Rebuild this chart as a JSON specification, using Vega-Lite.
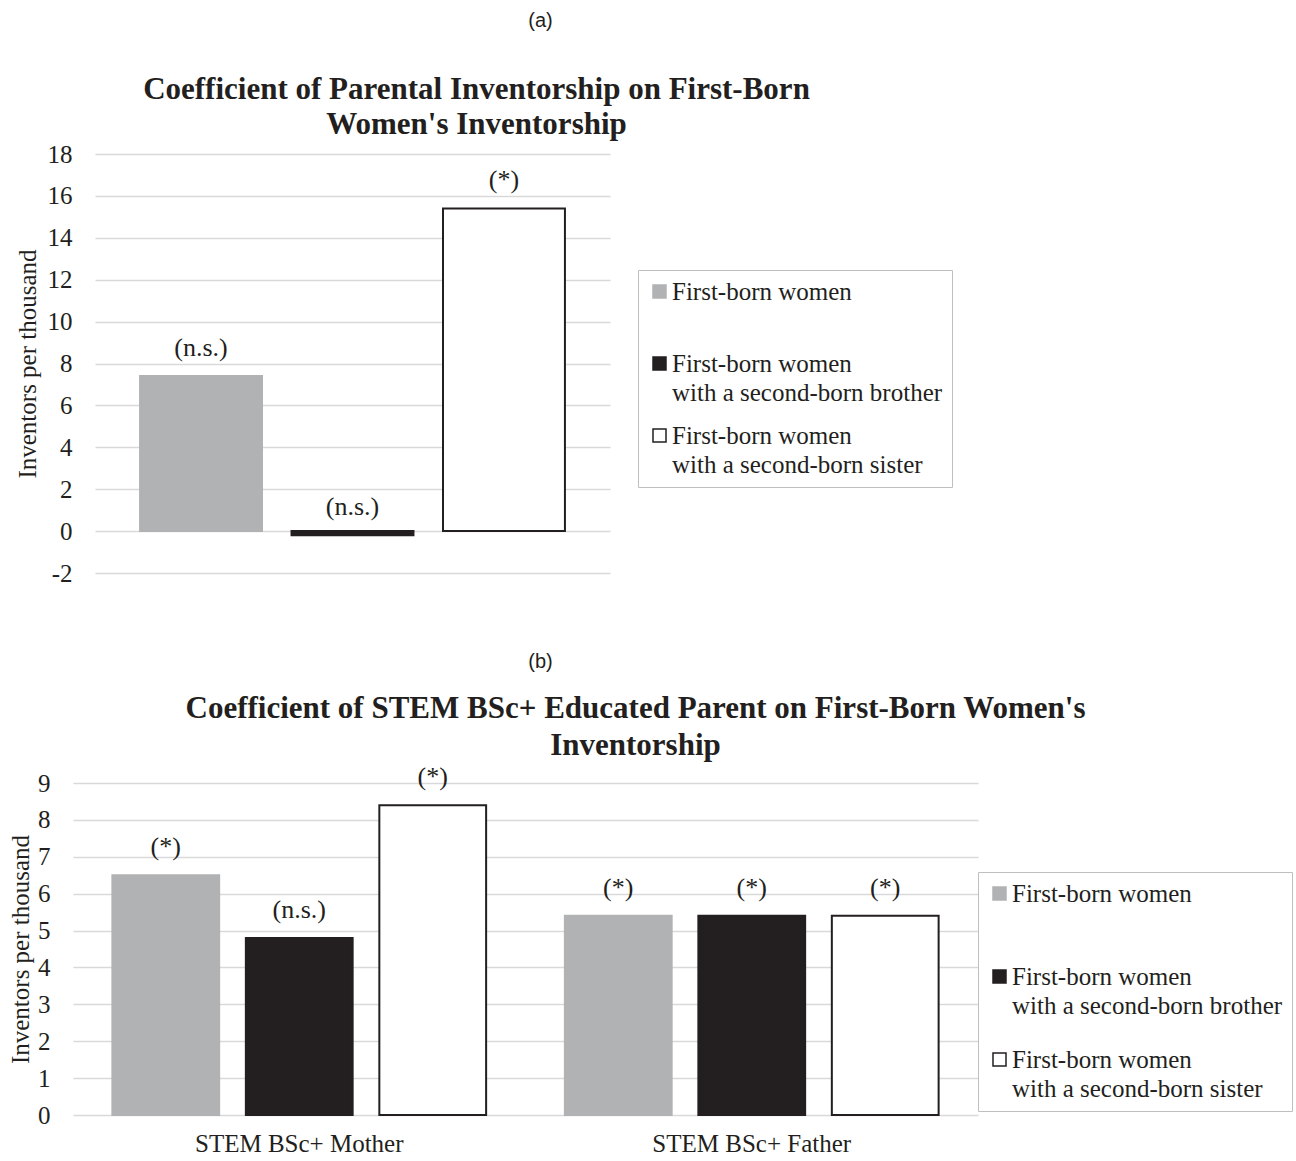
{
  "$schema": "https://vega.github.io/schema/vega-lite/v6.json",
  "background": "white",
  "padding": {"left": 8, "top": 11, "right": 0, "bottom": 0},
  "datasets": {
    "panelA": [
      {"series": "First-born women", "value": 7.4, "sig": "(n.s.)"},
      {"series": "First-born women with a second-born brother", "value": -0.2, "sig": "(n.s.)"},
      {"series": "First-born women with a second-born sister", "value": 15.4, "sig": "(*)"}
    ],
    "panelB": [
      {"parent": "STEM BSc+ Mother", "series": "First-born women", "value": 6.5, "sig": "(*)"},
      {"parent": "STEM BSc+ Mother", "series": "First-born women with a second-born brother", "value": 4.8, "sig": "(n.s.)"},
      {"parent": "STEM BSc+ Mother", "series": "First-born women with a second-born sister", "value": 8.4, "sig": "(*)"},
      {"parent": "STEM BSc+ Father", "series": "First-born women", "value": 5.4, "sig": "(*)"},
      {"parent": "STEM BSc+ Father", "series": "First-born women with a second-born brother", "value": 5.4, "sig": "(*)"},
      {"parent": "STEM BSc+ Father", "series": "First-born women with a second-born sister", "value": 5.4, "sig": "(*)"}
    ]
  },
  "columns": 1,
  "align": "none",
  "spacing": 66,
  "resolve": {"scale": {"color": "independent", "stroke": "independent"}, "legend": {"color": "independent", "stroke": "independent"}},
  "concat": [
    {
      "width": 537,
      "height": 419,
      "title": {"text": "(a)", "font": "Liberation Sans", "fontSize": 20, "fontWeight": "normal", "color": "#231f20", "anchor": "middle", "frame": "group", "dx": 199, "offset": 42},
      "data": {"name": "panelA"},
      "encoding": {
        "x": {"field": "series", "type": "nominal", "sort": ["First-born women", "First-born women with a second-born brother", "First-born women with a second-born sister"], "scale": {"range": [22, 537], "paddingInner": 0.195, "paddingOuter": 0.2975},
          "axis": {"orient": "top", "labels": false, "grid": false, "title": ["Coefficient of Parental Inventorship on First-Born", "Women's Inventorship"], "titleFont": "Liberation Serif", "titleFontSize": 31, "titleFontWeight": "bold", "titleLineHeight": 35, "titleColor": "#231f20", "titleX": 403, "titleY": -65, "titleAlign": "center", "titleBaseline": "middle", "titleAngle": 0}},
        "y": {"field": "value", "type": "quantitative", "scale": {"domain": [-2, 18], "nice": false}, "axis": {"values": [-2, 0, 2, 4, 6, 8, 10, 12, 14, 16, 18], "labelExpr": "replace(datum.label, '\u2212', '-')", "title": "Inventors per thousand", "labelPadding": 1, "titlePadding": 7}}
      },
      "layer": [
        {
          "mark": {"type": "bar", "strokeWidth": 2},
          "encoding": {
            "color": {"field": "series", "type": "nominal", "scale": {"domain": ["First-born women", "First-born women with a second-born brother", "First-born women with a second-born sister"], "range": ["#b1b2b4", "#231f20", "#ffffff"]},
              "legend": {"title": null, "orient": "none", "legendX": 565, "legendY": 116, "symbolType": "square", "symbolSize": 169, "symbolStrokeWidth": 1.5, "labelFont": "Liberation Serif", "labelFontSize": 25, "labelColor": "#231f20", "labelLimit": 600, "labelBaseline": "alphabetic", "labelExpr": "indexof(datum.label, ' with') > 0 ? [slice(datum.label, 0, indexof(datum.label, ' with')), slice(datum.label, indexof(datum.label, ' with') + 1)] : datum.label", "strokeColor": "#bfbfbf", "fillColor": "white", "padding": 9, "rowPadding": 17, "gridAlign": "all", "labelOffset": 0, "encode": {"labels": {"update": {"lineHeight": {"value": 29}, "dy": {"value": 8}}}}}},
            "stroke": {"field": "series", "type": "nominal", "scale": {"domain": ["First-born women", "First-born women with a second-born brother", "First-born women with a second-born sister"], "range": ["#b1b2b4", "#231f20", "#231f20"]},
              "legend": {"title": null, "orient": "none", "legendX": 565, "legendY": 116, "symbolType": "square", "symbolSize": 169, "symbolStrokeWidth": 1.5, "labelFont": "Liberation Serif", "labelFontSize": 25, "labelColor": "#231f20", "labelLimit": 600, "labelBaseline": "alphabetic", "labelExpr": "indexof(datum.label, ' with') > 0 ? [slice(datum.label, 0, indexof(datum.label, ' with')), slice(datum.label, indexof(datum.label, ' with') + 1)] : datum.label", "strokeColor": "#bfbfbf", "fillColor": "white", "padding": 9, "rowPadding": 17, "gridAlign": "all", "labelOffset": 0, "encode": {"labels": {"update": {"lineHeight": {"value": 29}, "dy": {"value": 8}}}}}}
          }
        },
        {
          "mark": {"type": "text", "baseline": "middle", "dy": -28, "font": "Liberation Serif", "fontSize": 26, "color": "#231f20"},
          "encoding": {"text": {"field": "sig"}}
        }
      ]
    },
    {
      "width": 905,
      "height": 332,
      "title": {"text": "(b)", "font": "Liberation Sans", "fontSize": 20, "fontWeight": "normal", "color": "#231f20", "anchor": "middle", "frame": "group", "dx": 15, "offset": 20},
      "data": {"name": "panelB"},
      "encoding": {
        "xOffset": {"field": "series", "type": "nominal", "sort": ["First-born women", "First-born women with a second-born brother", "First-born women with a second-born sister"], "scale": {"paddingInner": 0.2, "paddingOuter": 0.295}},
        "y": {"field": "value", "type": "quantitative", "scale": {"domain": [0, 9], "nice": false}, "axis": {"values": [0, 1, 2, 3, 4, 5, 6, 7, 8, 9], "title": "Inventors per thousand", "labelPadding": 23, "titlePadding": 4}}
      },
      "resolve": {"axis": {"x": "independent"}},
      "layer": [
        {
          "mark": {"type": "bar", "strokeWidth": 2},
          "encoding": {
            "x": {"field": "parent", "type": "nominal", "sort": ["STEM BSc+ Mother", "STEM BSc+ Father"], "scale": {"paddingInner": 0, "paddingOuter": 0}, "axis": {"title": null, "labelAngle": 0, "labelPadding": 16, "labelLimit": 400}},
            "color": {"field": "series", "type": "nominal", "scale": {"domain": ["First-born women", "First-born women with a second-born brother", "First-born women with a second-born sister"], "range": ["#b1b2b4", "#231f20", "#ffffff"]},
              "legend": {"title": null, "orient": "none", "legendX": 905, "legendY": 89, "symbolType": "square", "symbolSize": 169, "symbolStrokeWidth": 1.5, "labelFont": "Liberation Serif", "labelFontSize": 25, "labelColor": "#231f20", "labelLimit": 600, "labelBaseline": "alphabetic", "labelExpr": "indexof(datum.label, ' with') > 0 ? [slice(datum.label, 0, indexof(datum.label, ' with')), slice(datum.label, indexof(datum.label, ' with') + 1)] : datum.label", "strokeColor": "#bfbfbf", "fillColor": "white", "padding": 9, "rowPadding": 28, "gridAlign": "all", "labelOffset": 0, "encode": {"labels": {"update": {"lineHeight": {"value": 29}, "dy": {"value": 8}}}}}},
            "stroke": {"field": "series", "type": "nominal", "scale": {"domain": ["First-born women", "First-born women with a second-born brother", "First-born women with a second-born sister"], "range": ["#b1b2b4", "#231f20", "#231f20"]},
              "legend": {"title": null, "orient": "none", "legendX": 905, "legendY": 89, "symbolType": "square", "symbolSize": 169, "symbolStrokeWidth": 1.5, "labelFont": "Liberation Serif", "labelFontSize": 25, "labelColor": "#231f20", "labelLimit": 600, "labelBaseline": "alphabetic", "labelExpr": "indexof(datum.label, ' with') > 0 ? [slice(datum.label, 0, indexof(datum.label, ' with')), slice(datum.label, indexof(datum.label, ' with') + 1)] : datum.label", "strokeColor": "#bfbfbf", "fillColor": "white", "padding": 9, "rowPadding": 28, "gridAlign": "all", "labelOffset": 0, "encode": {"labels": {"update": {"lineHeight": {"value": 29}, "dy": {"value": 8}}}}}}
          }
        },
        {
          "mark": {"type": "text", "baseline": "middle", "dy": -28, "font": "Liberation Serif", "fontSize": 26, "color": "#231f20"},
          "encoding": {
            "x": {"field": "parent", "type": "nominal", "sort": ["STEM BSc+ Mother", "STEM BSc+ Father"], "axis": {"orient": "top", "labels": false, "grid": false, "title": ["Coefficient of STEM BSc+ Educated Parent on First-Born Women's", "Inventorship"], "titleFont": "Liberation Serif", "titleFontSize": 31, "titleFontWeight": "bold", "titleLineHeight": 37, "titleColor": "#231f20", "titleX": 562, "titleY": -75, "titleAlign": "center", "titleBaseline": "middle", "titleAngle": 0}},
            "text": {"field": "sig"}
          }
        }
      ]
    }
  ],
  "config": {
    "view": {"stroke": null},
    "axis": {"domain": false, "ticks": false, "tickSize": 0, "gridColor": "#d9d9d9", "gridWidth": 1.5, "labelFont": "Liberation Serif", "labelFontSize": 25, "labelColor": "#231f20", "titleFont": "Liberation Serif", "titleFontSize": 25, "titleFontWeight": "normal", "titleColor": "#231f20"},
    "axisX": {"grid": false, "labelFontSize": 25}
  }
}
